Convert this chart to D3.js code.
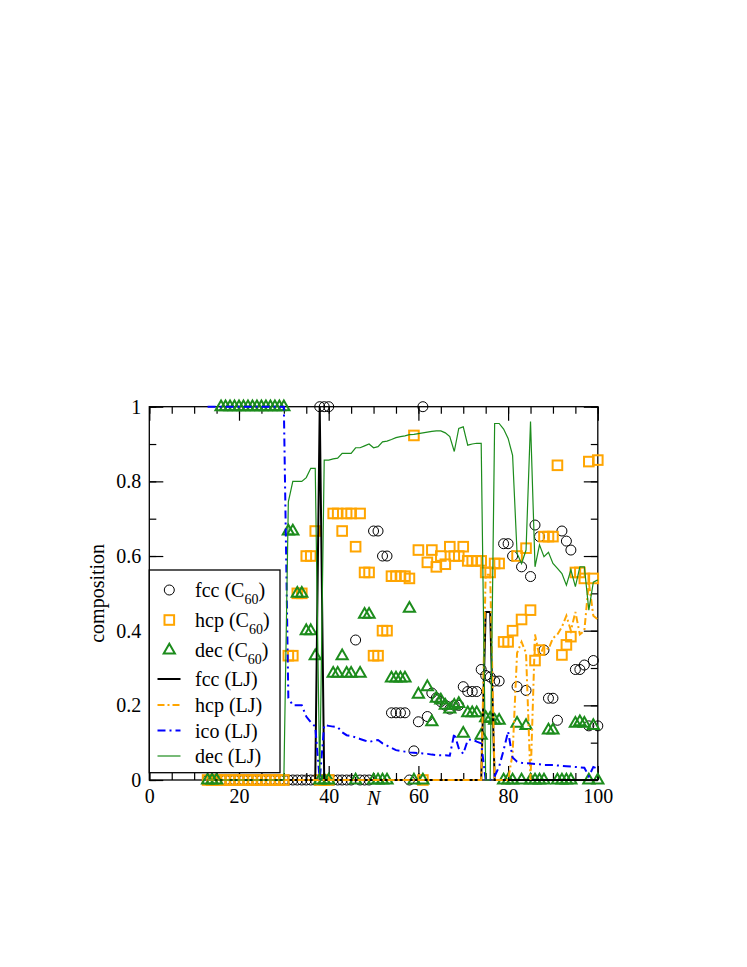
<!DOCTYPE html>
<html>
<head>
<meta charset="utf-8">
<script src="https://cdn.jsdelivr.net/npm/d3@7"></script>
<style>
body { margin: 0; background: #fff; }
text { font-family: "Liberation Serif", "Times New Roman", serif; }
</style>
</head>
<body>
<div id="chart"></div>
<script>
// cluster size N (13..100)
var nValues = [13,14,15,16,17,18,19,20,21,22,23,24,25,26,27,28,29,30,31,32,
  33,34,35,36,37,38,39,40,41,42,43,44,45,46,47,48,49,50,51,52,
  53,54,55,56,57,58,59,60,61,62,63,64,65,66,67,68,69,70,71,72,
  73,74,75,76,77,78,79,80,81,82,83,84,85,86,87,88,89,90,91,92,
  93,94,95,96,97,98,99,100];

// C60 compositions (markers)
var fccC60 = [0,0,0,0,0,0,0,0,0,0,
  0,0,0,0,0,0,0,0,0,0,
  0,0,0,0,0,1,1,1,0,0,
  0,0,0,0.375,0,0,0,0.667,0.667,0.6,
  0.6,0.18,0.18,0.18,0.18,0,0.078,0.156,1,0.17,
  0.233,0.22,0.21,0.2,0.19,0.2,0.2,0.25,0.237,0.237,
  0.237,0.296,0.28,0.276,0.265,0.265,0.633,0.633,0.6,0.25,
  0.571,0.24,0.545,0.683,0.652,0.348,0.219,0.219,0.16,0.667,
  0.64,0.616,0.296,0.296,0.308,0.145,0.32,0.145];
var hcpC60 = [0,0,0,0,0,0,0,0,0,0,
  0,0,0,0,0,0,0,0,0.333,0.333,
  0.5,0.5,0.6,0.6,0.667,0,0,0,0.714,0.714,
  0.667,0.714,0.714,0.625,0.714,0.556,0.556,0.333,0.333,0.4,
  0.4,0.546,0.546,0.546,0.546,0.54,0.923,0.616,0,0.583,
  0.616,0.571,0.6,0.578,0.625,0.6,0.6,0.625,0.587,0.587,
  0.587,0.587,0.556,0.556,0.58,0.58,0.37,0.37,0.4,0.6,
  0.43,0.621,0.455,0.32,0.348,0.652,0.652,0.652,0.843,0.335,
  0.362,0.384,0.556,0.556,0.54,0.853,0.54,0.857];
var decC60 = [0,0,0,1,1,1,1,1,1,1,
  1,1,1,1,1,1,1,1,0.667,0.667,
  0.5,0.5,0.4,0.4,0.333,0,0,0,0.286,0.286,
  0.333,0.286,0.286,0,0.286,0.444,0.444,0,0,0,
  0,0.273,0.273,0.273,0.273,0.46,0,0.23,0,0.25,
  0.156,0.219,0.214,0.2,0.19,0.2,0.205,0.125,0.18,0.18,
  0.18,0.12,0.167,0.165,0.16,0.16,0,0,0,0.152,
  0,0.146,0,0,0,0,0.134,0.134,0,0,
  0,0,0.152,0.156,0.152,0,0.146,0];

// LJ compositions (lines)
var fccLJ = [0,0,0,0,0,0,0,0,0,0,
  0,0,0,0,0,0,0,0,0,0,
  0,0,0,0,0,1,0,0,0,0,
  0,0,0,0,0,0,0,0,0,0,
  0,0,0,0,0,0,0,0,0,0,
  0,0,0,0,0,0,0,0,0,0,
  0,0,0.45,0.45,0,0,0,0,0,0,
  0,0,0,0,0,0,0,0,0,0,
  0,0,0,0,0,0,0,0];
var hcpLJ = [0,0,0,0,0,0,0,0,0,0,
  0,0,0,0,0,0,0,0,0,0,
  0,0,0,0,0,0,0,0,0,0,
  0,0,0,0,0,0,0,0,0,0,
  0,0,0,0,0,0,0,0,0,0,
  0,0,0,0,0,0,0,0,0,0,
  0,0,0.55,0.55,0,0,0,0,0.07,0.34,
  0.37,0.34,0,0.39,0.33,0.36,0.35,0.38,0.39,0.41,
  0.44,0.4,0.45,0.39,0.4,0.53,0.44,0.43];
var icoLJ = [1,1,1,1,1,1,1,1,1,1,
  1,1,1,1,1,1,1,1,0.22,0.2,
  0.2,0.2,0.17,0.155,0.143,0,0.147,0.145,0.143,0.142,
  0.128,0.12,0.118,0.114,0.11,0.106,0.102,0.105,0.107,0.098,
  0.092,0.086,0.08,0.078,0.076,0.074,0.073,0.072,0.071,0.07,
  0.068,0.067,0.066,0.066,0.065,0.125,0.085,0.07,0.107,0.109,
  0.103,0.098,0,0,0.01,0.036,0.08,0.13,0.06,0.049,
  0.046,0.045,0.044,0.043,0.042,0.04,0.04,0.04,0.039,0.038,
  0.037,0.036,0.035,0.034,0.033,0.01,0.035,0.03];
var decLJ = [0,0,0,0,0,0,0,0,0,0,
  0,0,0,0,0,0,0,0,0.745,0.8,
  0.8,0.8,0.81,0.835,0.835,0,0.857,0.857,0.86,0.862,
  0.875,0.875,0.875,0.89,0.89,0.895,0.9,0.89,0.893,0.906,
  0.908,0.912,0.917,0.92,0.922,0.925,0.926,0.928,0.93,0.932,
  0.934,0.935,0.935,0.93,0.92,0.88,0.942,0.946,0.897,0.9,
  0.902,0.902,0,0,0.955,0.955,0.94,0.915,0.87,0.607,
  0.58,0.616,0.96,0.571,0.63,0.598,0.61,0.58,0.567,0.553,
  0.522,0.563,0.518,0.571,0.571,0.455,0.53,0.536];

var xTicks = [0, 20, 40, 60, 80, 100],
    yTicks = [0, 0.2, 0.4, 0.6, 0.8, 1],
    yTickLabels = ["0", "0.2", "0.4", "0.6", "0.8", "1"];

var width = 747, height = 967,
    plotLeft = 149.3, plotRight = 597.8, plotTop = 406.7, plotBottom = 780,
    fontSize = 20;

var orange = "#ffa500", green = "#1c8c1c", blue = "#0000ff";

var svg = d3.select("#chart").append("svg")
    .attr("width", width)
    .attr("height", height);

var x = d3.scaleLinear().domain([0, 100]).range([plotLeft, plotRight]);
var y = d3.scaleLinear().domain([0, 1]).range([plotBottom, plotTop]);

// ticks, all pointing inwards, mirrored on the four sides
function styleAxis(g) {
    g.select(".domain").remove();
    g.selectAll("line").attr("stroke", "#000").attr("stroke-width", 1.2);
    g.attr("font-size", fontSize).attr("font-family", "Liberation Serif, Times New Roman, serif");
    g.selectAll("text").attr("fill", "#000");
}
var xMinor = d3.range(0, 101, 5), yMinor = d3.range(0, 1.01, 0.1);

svg.append("g").attr("transform", `translate(0,${plotBottom})`)
    .call(d3.axisBottom(x).tickValues(xMinor).tickSize(-7).tickFormat(""))
    .call(styleAxis);
svg.append("g").attr("transform", `translate(0,${plotBottom})`)
    .call(d3.axisBottom(x).tickValues(xTicks).tickSize(-14).tickPadding(9).tickFormat(d3.format("d")))
    .call(styleAxis);
svg.append("g").attr("transform", `translate(0,${plotTop})`)
    .call(d3.axisTop(x).tickValues(xMinor).tickSize(-7).tickFormat(""))
    .call(styleAxis);
svg.append("g").attr("transform", `translate(0,${plotTop})`)
    .call(d3.axisTop(x).tickValues(xTicks).tickSize(-14).tickFormat(""))
    .call(styleAxis);
svg.append("g").attr("transform", `translate(${plotLeft},0)`)
    .call(d3.axisLeft(y).tickValues(yMinor).tickSize(-7).tickFormat(""))
    .call(styleAxis);
svg.append("g").attr("transform", `translate(${plotLeft},0)`)
    .call(d3.axisLeft(y).tickValues(yTicks).tickSize(-14).tickPadding(8)
        .tickFormat(function(d, i) { return yTickLabels[i]; }))
    .call(styleAxis);
svg.append("g").attr("transform", `translate(${plotRight},0)`)
    .call(d3.axisRight(y).tickValues(yMinor).tickSize(-7).tickFormat(""))
    .call(styleAxis);
svg.append("g").attr("transform", `translate(${plotRight},0)`)
    .call(d3.axisRight(y).tickValues(yTicks).tickSize(-14).tickFormat(""))
    .call(styleAxis);

svg.append("rect")
    .attr("x", plotLeft).attr("y", plotTop)
    .attr("width", plotRight - plotLeft).attr("height", plotBottom - plotTop)
    .attr("fill", "none").attr("stroke", "#000").attr("stroke-width", 1.3);

// axis titles
svg.append("text")
    .attr("transform", `translate(104,${(plotTop + plotBottom) / 2}) rotate(-90)`)
    .attr("text-anchor", "middle")
    .attr("font-size", fontSize)
    .text("composition");
svg.append("text")
    .attr("x", x(50)).attr("y", 805)
    .attr("text-anchor", "middle")
    .attr("font-size", fontSize)
    .attr("font-style", "italic")
    .text("N");

// markers
function pts(vals) {
    return nValues.map(function(n, i) { return {n: n, v: vals[i]}; });
}
var triPath = "M0,-6.3L5.6,3.5L-5.6,3.5Z";

svg.append("g").selectAll("circle")
    .data(pts(fccC60)).enter().append("circle")
    .attr("cx", d => x(d.n)).attr("cy", d => y(d.v))
    .attr("r", 5)
    .attr("fill", "none").attr("stroke", "#000").attr("stroke-width", 1);

svg.append("g").selectAll("rect")
    .data(pts(hcpC60)).enter().append("rect")
    .attr("x", d => x(d.n) - 4.8).attr("y", d => y(d.v) - 4.8)
    .attr("width", 9.6).attr("height", 9.6)
    .attr("fill", "none").attr("stroke", orange).attr("stroke-width", 2);

svg.append("g").selectAll("path")
    .data(pts(decC60)).enter().append("path")
    .attr("transform", d => `translate(${x(d.n)},${y(d.v)})`)
    .attr("d", triPath)
    .attr("fill", "none").attr("stroke", green).attr("stroke-width", 2)
    .attr("stroke-linejoin", "miter");

// LJ lines
var line = d3.line().x(d => x(d.n)).y(d => y(d.v));
var ljSeries = [
    {vals: fccLJ, color: "#000", w: 2, dash: null},
    {vals: hcpLJ, color: orange, w: 2, dash: "7,3,2,3"},
    {vals: icoLJ, color: blue, w: 2, dash: "8,4,2,4"},
    {vals: decLJ, color: green, w: 1.2, dash: null}
];
ljSeries.forEach(function(s) {
    svg.append("path")
        .datum(pts(s.vals))
        .attr("d", line)
        .attr("fill", "none")
        .attr("stroke", s.color)
        .attr("stroke-width", s.w)
        .attr("stroke-dasharray", s.dash);
});

// legend
var legendX = plotLeft, legendY = 570, legendW = 130.7, legendH = 202.7;
var legend = svg.append("g");
legend.append("rect")
    .attr("x", legendX).attr("y", legendY)
    .attr("width", legendW).attr("height", legendH)
    .attr("fill", "#fff").attr("stroke", "#000").attr("stroke-width", 1.3);

var legendItems = [
    {label: "fcc (C", sub: "60", kind: "circle", y: 590},
    {label: "hcp (C", sub: "60", kind: "square", y: 620},
    {label: "dec (C", sub: "60", kind: "tri", y: 650},
    {label: "fcc (LJ)", kind: "line", color: "#000", w: 2, dash: null, y: 679},
    {label: "hcp (LJ)", kind: "line", color: orange, w: 2, dash: "7,3,2,3", y: 705},
    {label: "ico (LJ)", kind: "line", color: blue, w: 2, dash: "8,4,2,4", y: 730.5},
    {label: "dec (LJ)", kind: "line", color: green, w: 1.2, dash: null, y: 756}
];
var symX = 169.3, textX = 195;
legendItems.forEach(function(it) {
    if (it.kind === "circle") {
        legend.append("circle").attr("cx", symX).attr("cy", it.y).attr("r", 5)
            .attr("fill", "none").attr("stroke", "#000").attr("stroke-width", 1);
    } else if (it.kind === "square") {
        legend.append("rect").attr("x", symX - 4.8).attr("y", it.y - 4.8)
            .attr("width", 9.6).attr("height", 9.6)
            .attr("fill", "none").attr("stroke", orange).attr("stroke-width", 2);
    } else if (it.kind === "tri") {
        legend.append("path").attr("transform", `translate(${symX},${it.y})`)
            .attr("d", triPath)
            .attr("fill", "none").attr("stroke", green).attr("stroke-width", 2);
    } else {
        legend.append("line").attr("x1", 157.5).attr("x2", 180.5)
            .attr("y1", it.y).attr("y2", it.y)
            .attr("stroke", it.color).attr("stroke-width", it.w)
            .attr("stroke-dasharray", it.dash);
    }
    var t = legend.append("text")
        .attr("x", textX).attr("y", it.y + 7)
        .attr("font-size", fontSize);
    t.append("tspan").text(it.label);
    if (it.sub) {
        t.append("tspan").attr("dy", 7).attr("font-size", 14).text(it.sub);
        t.append("tspan").attr("dy", -7).text(")");
    }
});
</script>
</body>
</html>
